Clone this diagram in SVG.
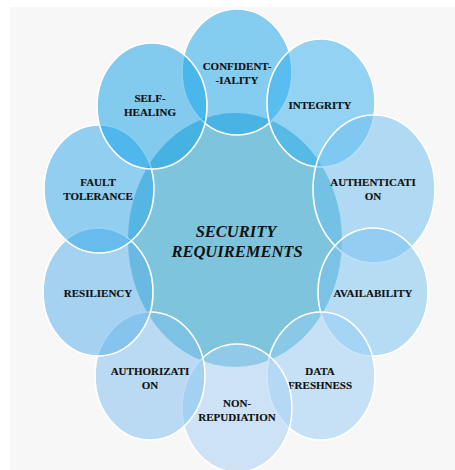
<svg xmlns="http://www.w3.org/2000/svg" width="455" height="470" viewBox="0 0 455 470">
  <style>
    .ring { stroke: #ffffff; stroke-width: 1.6; fill-opacity: 0.5; }
    .hub { fill: #0591c1; fill-opacity: 0.5; }
    .lbl { font-family: "Liberation Serif", "Times New Roman", serif; font-weight: bold; font-size: 11px; fill: #111111; stroke: #111111; stroke-width: 0.15; text-anchor: middle; }
    .title { font-family: "Liberation Serif", "Times New Roman", serif; font-weight: bold; font-style: italic; font-size: 16.5px; fill: #111111; text-anchor: middle; }
  </style>

  <!-- page background -->
  <rect x="0" y="0" width="455" height="470" fill="#ffffff"/>
  <rect x="10" y="7" width="445" height="463" fill="#f7f7f7"/>

  <!-- central hub -->
  <g id="hub">
    <ellipse class="hub" cx="235" cy="240" rx="107" ry="127"/>
    <text class="title" x="236" y="237">SECURITY</text>
    <text class="title" x="237" y="257">REQUIREMENTS</text>
  </g>

  <!-- surrounding requirements, clockwise from the top -->
  <g id="confidentiality">
    <ellipse class="ring" fill="#13a3e9" cx="237" cy="72" rx="55" ry="63"/>
    <text class="lbl" x="237" y="70">CONFIDENT-</text>
    <text class="lbl" x="237" y="84">-IALITY</text>
  </g>
  <g id="integrity">
    <ellipse class="ring" fill="#2fadef" cx="321" cy="103" rx="54" ry="64"/>
    <text class="lbl" x="320" y="109">INTEGRITY</text>
  </g>
  <g id="authentication">
    <ellipse class="ring" fill="#69bdef" cx="374" cy="189" rx="61" ry="74"/>
    <text class="lbl" x="373" y="186">AUTHENTICATI</text>
    <text class="lbl" x="373" y="200">ON</text>
  </g>
  <g id="availability">
    <ellipse class="ring" fill="#75c1f1" cx="373" cy="292" rx="55" ry="64"/>
    <text class="lbl" x="373" y="297">AVAILABILITY</text>
  </g>
  <g id="data-freshness">
    <ellipse class="ring" fill="#95cbf3" cx="321" cy="376" rx="54" ry="64"/>
    <text class="lbl" x="320" y="375">DATA</text>
    <text class="lbl" x="320" y="389">FRESHNESS</text>
  </g>
  <g id="non-repudiation">
    <ellipse class="ring" fill="#a3cff3" cx="237" cy="408" rx="55" ry="64"/>
    <text class="lbl" x="237" y="407">NON-</text>
    <text class="lbl" x="237" y="421">REPUDIATION</text>
  </g>
  <g id="authorization">
    <ellipse class="ring" fill="#7bbded" cx="150" cy="376" rx="55" ry="64"/>
    <text class="lbl" x="150" y="375">AUTHORIZATI</text>
    <text class="lbl" x="150" y="389">ON</text>
  </g>
  <g id="resiliency">
    <ellipse class="ring" fill="#53ade9" cx="98" cy="292" rx="55" ry="64"/>
    <text class="lbl" x="98" y="297">RESILIENCY</text>
  </g>
  <g id="fault-tolerance">
    <ellipse class="ring" fill="#2ba5e9" cx="99" cy="189" rx="55" ry="64"/>
    <text class="lbl" x="98" y="186">FAULT</text>
    <text class="lbl" x="98" y="200">TOLERANCE</text>
  </g>
  <g id="self-healing">
    <ellipse class="ring" fill="#0d9fe7" cx="152" cy="106" rx="55" ry="63"/>
    <text class="lbl" x="150" y="102">SELF-</text>
    <text class="lbl" x="150" y="116">HEALING</text>
  </g>

  <!-- no connectors: the layout is purely radial -->
  <g id="connectors"/>
</svg>
